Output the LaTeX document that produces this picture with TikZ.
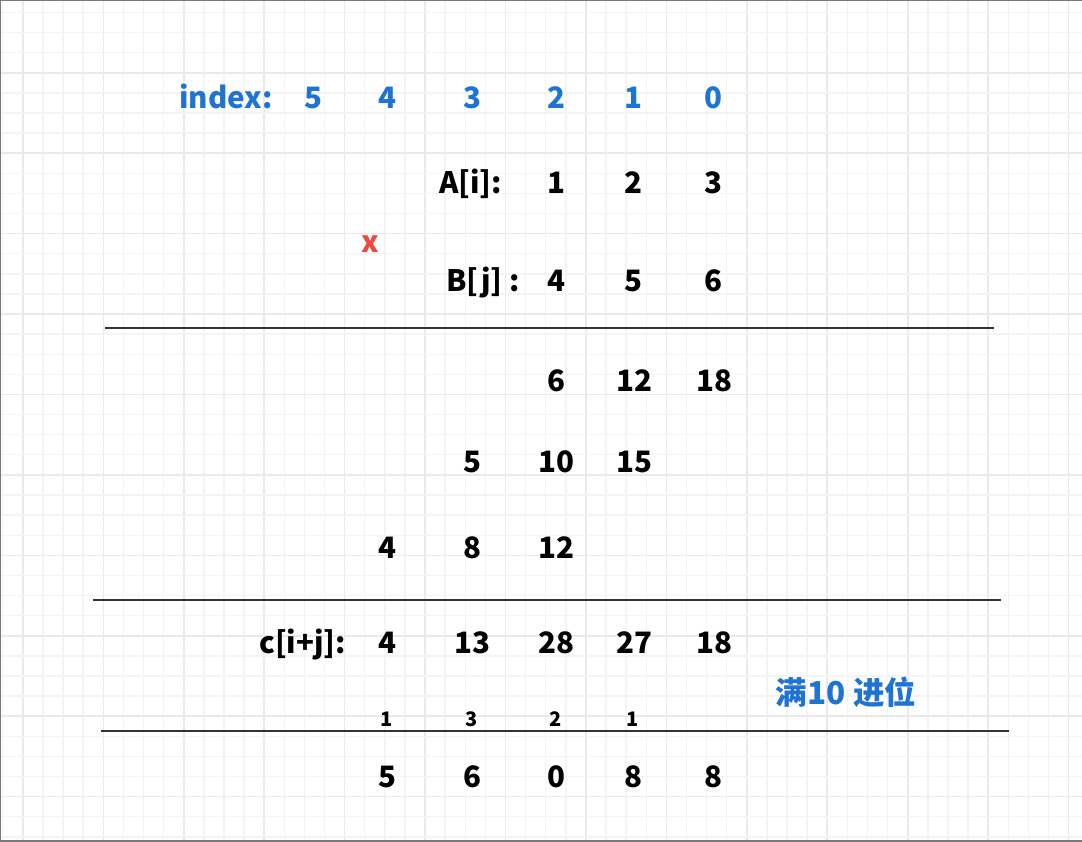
\documentclass[tikz,border=0pt]{standalone}
\usepackage{fontspec}
\setmainfont{Noto Sans CJK SC}
\definecolor{idxblue}{RGB}{31,116,210}
\definecolor{xred}{RGB}{240,72,62}
\definecolor{gridminor}{RGB}{244,244,244}
\definecolor{gridmajor}{RGB}{234,234,234}
\definecolor{rulegray}{RGB}{51,51,51}
\definecolor{framegray}{RGB}{120,120,120}
\tikzset{
  num/.style={anchor=base, inner sep=0pt, font=\fontsize{29.5}{29.5}\selectfont\bfseries, text=black},
  lbl/.style={anchor=base west, inner sep=0pt, font=\fontsize{29.5}{29.5}\selectfont\bfseries, text=black},
  blue/.style={text=idxblue},
  carry/.style={anchor=base, inner sep=0pt, font=\fontsize{20}{20}\selectfont\bfseries, text=black},
  rule/.style={draw=rulegray, line width=2pt},
}
\begin{document}
\begin{tikzpicture}[x=1pt,y=-1pt]
\useasboundingbox (0,0) rectangle (1082,841);
\fill[white] (0,0) rectangle (1082,841);
% grid
\foreach \k in {-5,...,48} {
  \pgfmathsetmacro{\gx}{103.3+20.11*\k}
  \pgfmathtruncatemacro{\mj}{mod(\k+100,4)==0}
  \ifnum\mj=1
    \draw[gridmajor, line width=1.6pt] (\gx,0) -- (\gx,841);
  \else
    \draw[gridminor, line width=1.4pt] (\gx,0) -- (\gx,841);
  \fi
}
\foreach \k in {-3,...,38} {
  \pgfmathsetmacro{\gy}{72.7+20.11*\k}
  \pgfmathtruncatemacro{\mj}{mod(\k+100,4)==0}
  \ifnum\mj=1
    \draw[gridmajor, line width=1.6pt] (0,\gy) -- (1082,\gy);
  \else
    \draw[gridminor, line width=1.4pt] (0,\gy) -- (1082,\gy);
  \fi
}
% frame
\draw[framegray, line width=2.5pt] (1082,0) -- (0,0) -- (0,841) -- (1082,841);

% index row
\node[lbl, blue] (idx) at (179,108) {index:};
\node[num, blue] (i5) at (313,108) {5};
\node[num, blue] (i4) at (387,108) {4};
\node[num, blue] (i3) at (472,108) {3};
\node[num, blue] (i2) at (556,108) {2};
\node[num, blue] (i1) at (633,108) {1};
\node[num, blue] (i0) at (713,108) {0};

% A row
\node[lbl] (Alab) at (439,193) {A[i]:};
\node[num] (a2) at (556,193) {1};
\node[num] (a1) at (633,193) {2};
\node[num] (a0) at (713,193) {3};

% x
\node[num, text=xred] (times) at (370,252) {x};

% B row
\node[lbl] (Blab) at (446,291) {B[j] :};
\node[num] (b2) at (556,291) {4};
\node[num] (b1) at (633,291) {5};
\node[num] (b0) at (713,291) {6};

\coordinate (l1a) at (105,328);
\coordinate (l1b) at (994,328);
\draw[rule] (l1a) -- (l1b);

% partial products
\node[num] (p12) at (556,391) {6};
\node[num] (p11) at (634,391) {12};
\node[num] (p10) at (714,391) {18};
\node[num] (p23) at (472,472) {5};
\node[num] (p22) at (556,472) {10};
\node[num] (p21) at (634,472) {15};
\node[num] (p34) at (387,558) {4};
\node[num] (p33) at (472,558) {8};
\node[num] (p32) at (556,558) {12};

\coordinate (l2a) at (93,600);
\coordinate (l2b) at (1001,600);
\draw[rule] (l2a) -- (l2b);

% c row
\node[lbl] (Clab) at (259,653) {c[i+j]:};
\node[num] (c4) at (387,653) {4};
\node[num] (c3) at (472,653) {13};
\node[num] (c2) at (556,653) {28};
\node[num] (c1) at (634,653) {27};
\node[num] (c0) at (714,653) {18};

\node[anchor=base, inner sep=0pt, font=\fontsize{31.5}{31.5}\selectfont\bfseries, text=idxblue] (carrynote) at (846,704) {满10 进位};

% carries
\node[carry] (k4) at (387,726) {1};
\node[carry] (k3) at (472,726) {3};
\node[carry] (k2) at (556,726) {2};
\node[carry] (k1) at (633,726) {1};

\coordinate (l3a) at (101,731);
\coordinate (l3b) at (1009,731);
\draw[rule] (l3a) -- (l3b);

% result
\node[num] (r4) at (387,787) {5};
\node[num] (r3) at (472,787) {6};
\node[num] (r2) at (556,787) {0};
\node[num] (r1) at (633,787) {8};
\node[num] (r0) at (713,787) {8};
\end{tikzpicture}
\end{document}
